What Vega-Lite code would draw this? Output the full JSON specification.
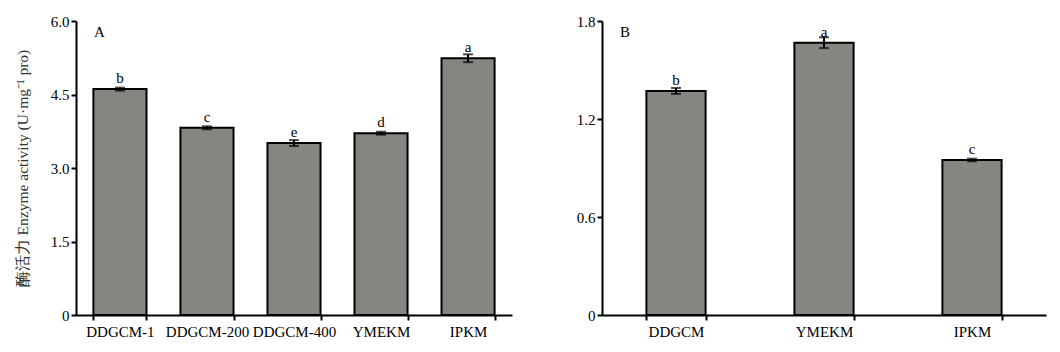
{
  "$schema": "https://vega.github.io/schema/vega-lite/v6.json",
  "padding": {"left": 15, "top": 14, "right": 10, "bottom": 5},
  "spacing": 64,
  "config": {
    "font": "Liberation Serif",
    "view": {"stroke": null},
    "axis": {"grid": false, "domainColor": "black", "domainWidth": 2, "tickColor": "black", "tickWidth": 2, "labelColor": "black", "labelFont": "Liberation Serif", "labelFontSize": 15, "titleFont": "Liberation Serif", "titleFontWeight": "normal", "titleFontSize": 15.5, "titleColor": "#333"},
    "title": {"font": "Liberation Serif", "fontSize": 15, "fontWeight": "normal", "anchor": "start", "color": "black", "frame": "group"}
  },
  "hconcat": [
    {
      "width": 436,
      "height": 294,
      "title": {"text": "A", "dx": 18, "offset": -26},
      "data": {"values": [
        {"group": "DDGCM-1", "mean": 4.61, "err": 0.03, "sig": "b"},
        {"group": "DDGCM-200", "mean": 3.82, "err": 0.03, "sig": "c"},
        {"group": "DDGCM-400", "mean": 3.51, "err": 0.06, "sig": "e"},
        {"group": "YMEKM", "mean": 3.71, "err": 0.03, "sig": "d"},
        {"group": "IPKM", "mean": 5.24, "err": 0.08, "sig": "a"}
      ]},
      "encoding": {
        "x": {"field": "group", "type": "nominal", "sort": null, "title": null,
              "scale": {"paddingInner": 0.39, "paddingOuter": 0.2},
              "axis": {"labelAngle": 0, "tickBand": "extent", "tickSize": 5, "labelPadding": 4}}
      },
      "layer": [
        {"mark": {"type": "bar", "color": "#868681", "stroke": "black", "strokeWidth": 2},
         "encoding": {"y": {"field": "mean", "type": "quantitative", "title": "酶活力 Enzyme activity (U·mg⁻¹ pro)",
           "scale": {"domain": [0, 6]},
           "axis": {"values": [0, 1.5, 3, 4.5, 6], "labelExpr": "datum.value == 0 ? '0' : format(datum.value, '.1f')", "tickSize": 5, "titlePadding": 20}}}},
        {"mark": {"type": "errorbar", "ticks": {"size": 10, "thickness": 2, "color": "black"}, "color": "black", "thickness": 2},
         "encoding": {"y": {"field": "mean", "type": "quantitative", "title": "酶活力 Enzyme activity (U·mg⁻¹ pro)"}, "yError": {"field": "err"}}},
        {"mark": {"type": "text", "baseline": "bottom", "dy": -3, "fontSize": 15, "font": "Liberation Serif", "color": "black"},
         "encoding": {"y": {"field": "mean", "type": "quantitative", "title": "酶活力 Enzyme activity (U·mg⁻¹ pro)"}, "text": {"field": "sig"}, "yOffset": {"field": "err", "type": "quantitative", "scale": {"domain": [0, 6], "range": [0, -294]}, "legend": null}}}
      ]
    },
    {
      "width": 444,
      "height": 294,
      "title": {"text": "B", "dx": 18, "offset": -26},
      "data": {"values": [
        {"group": "DDGCM", "mean": 1.372, "err": 0.018, "sig": "b"},
        {"group": "YMEKM", "mean": 1.667, "err": 0.033, "sig": "a"},
        {"group": "IPKM", "mean": 0.949, "err": 0.008, "sig": "c"}
      ]},
      "encoding": {
        "x": {"field": "group", "type": "nominal", "sort": null, "title": null,
              "scale": {"paddingInner": 0.6, "paddingOuter": 0.3},
              "axis": {"labelAngle": 0, "tickBand": "extent", "tickSize": 5, "labelPadding": 4}}
      },
      "layer": [
        {"mark": {"type": "bar", "color": "#868681", "stroke": "black", "strokeWidth": 2},
         "encoding": {"y": {"field": "mean", "type": "quantitative", "title": null,
           "scale": {"domain": [0, 1.8]},
           "axis": {"values": [0, 0.6, 1.2, 1.8], "labelExpr": "datum.value == 0 ? '0' : format(datum.value, '.1f')", "tickSize": 5}}}},
        {"mark": {"type": "errorbar", "ticks": {"size": 10, "thickness": 2, "color": "black"}, "color": "black", "thickness": 2},
         "encoding": {"y": {"field": "mean", "type": "quantitative", "title": null}, "yError": {"field": "err"}}},
        {"mark": {"type": "text", "baseline": "bottom", "dy": -3, "fontSize": 15, "font": "Liberation Serif", "color": "black"},
         "encoding": {"y": {"field": "mean", "type": "quantitative", "title": null}, "text": {"field": "sig"}, "yOffset": {"field": "err", "type": "quantitative", "scale": {"domain": [0, 1.8], "range": [0, -294]}, "legend": null}}}
      ]
    }
  ]
}
